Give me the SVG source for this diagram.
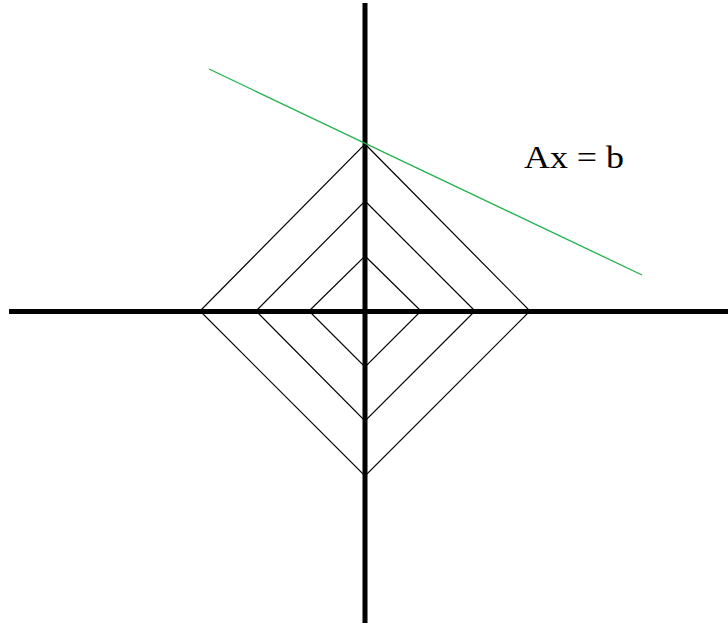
<svg xmlns="http://www.w3.org/2000/svg" width="728" height="626" viewBox="0 0 728 626">
<style>
.axis{stroke:#000;stroke-width:5;fill:none}
.dia{stroke:#000;stroke-width:1.2;fill:none}
.lin{stroke:#22b14c;stroke-width:1.3;fill:none}
.lbl{font-family:"Liberation Serif",serif;font-size:32px;fill:#000}
</style>
<rect width="728" height="626" fill="#fff"/>
<g id="axes">
<line class="axis" x1="365" y1="3" x2="365" y2="623"/>
<line class="axis" x1="9" y1="311.5" x2="728" y2="311.5"/>
</g>
<g id="diamond-outer"><polygon class="dia" points="365,144 530,311 365,476 200,311"/></g>
<g id="diamond-middle"><polygon class="dia" points="365,201 475,311 365,421 256,311"/></g>
<g id="diamond-inner"><polygon class="dia" points="365,256 421,311 365,367 309,311"/></g>
<g id="constraint">
<line class="lin" x1="209" y1="69" x2="642" y2="275"/>
<text class="lbl" x="524" y="168" textLength="100" lengthAdjust="spacingAndGlyphs">Ax = b</text>
</g>
</svg>
